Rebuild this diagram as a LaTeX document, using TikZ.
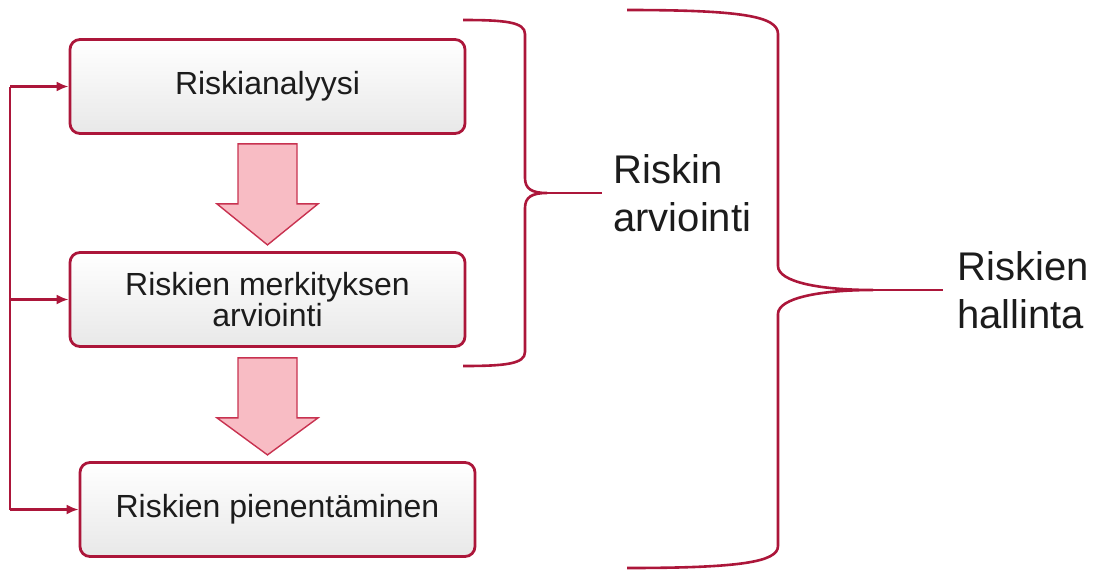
\documentclass[tikz,border=0pt]{standalone}
\usepackage{fontspec}
\setmainfont{Liberation Sans}
\usetikzlibrary{positioning,calc,arrows.meta}
\definecolor{riskred}{RGB}{172,22,58}
\definecolor{arrowpink}{RGB}{248,188,196}
\definecolor{arrowedge}{RGB}{200,50,80}
\definecolor{textgray}{RGB}{28,28,28}

\begin{document}
\begin{tikzpicture}[x=0.5pt, y=-0.5pt, >={Latex[length=6pt,width=5pt]},
    stage/.style={draw=riskred, line width=1.4pt, rounded corners=5pt,
      top color=white, middle color=white, bottom color=black!9,
      minimum width=197.5pt, minimum height=47pt, align=center,
      text=textgray, font=\fontsize{16}{15.5}\selectfont},
    bigarrow/.style={draw=arrowedge, line width=0.7pt, fill=arrowpink,
      line join=miter},
    brace/.style={draw=riskred, line width=1.3pt},
    loopline/.style={draw=riskred, line width=1.1pt},
    biglabel/.style={inner sep=0pt, align=left, text=textgray,
      font=\fontsize{20}{24}\selectfont}]
        \useasboundingbox (0,0) rectangle (1098,574);
        \node[stage] (ana) at (267.5, 86.5) {Riskianalyysi};
        \node[stage] (mer) at (267.5, 299.5) {Riskien merkityksen\\arviointi};
        \node[stage] (pie) at (277.5, 509.5) {Riskien pienentäminen};
        \draw[bigarrow] ($(ana.south)+(-29.5,9)$) -- ++(59,0) -- ++(0,60)
          -- ++(21,0) -- ++(-50.5,41) -- ++(-50.5,-41) -- ++(21,0) -- cycle;
        \draw[bigarrow] ($(mer.south)+(-29.5,10)$) -- ++(59,0) -- ++(0,60)
          -- ++(21,0) -- ++(-50.5,37) -- ++(-50.5,-37) -- ++(21,0) -- cycle;
        \coordinate (fbx) at (10,0);
        \draw[loopline] (fbx |- ana.west) -- (fbx |- pie.west);
        \foreach \n in {ana, mer, pie}
          \draw[loopline, ->] (fbx |- \n.west) -- (\n.west);
        \coordinate (b1tip) at (547,193);
        \coordinate (b1end) at (602,193);
        \draw[brace] (463,20) .. controls (505,20) and (525,22) .. (525,34)
          -- (525,178) .. controls (525,189) and (532,193) .. (b1tip)
          .. controls (532,193) and (525,197) .. (525,208)
          -- (525,352) .. controls (525,364) and (505,366) .. (463,366);
        \draw[brace] (b1tip) -- (b1end);
        \node[biglabel, right=5.5pt of b1end] (arv) {Riskin\\arviointi};
        \coordinate (b2tip) at (873,290);
        \coordinate (b2end) at (943,290);
        \draw[brace] (627,10) .. controls (740,10) and (778,16) .. (778,34)
          -- (778,266) .. controls (778,282) and (820,290) .. (b2tip)
          .. controls (820,290) and (778,298) .. (778,314)
          -- (778,546) .. controls (778,562) and (740,568) .. (627,568);
        \draw[brace] (b2tip) -- (b2end);
        \node[biglabel, right=7pt of b2end] (hal) {Riskien\\hallinta};
      \end{tikzpicture}
\end{document}
